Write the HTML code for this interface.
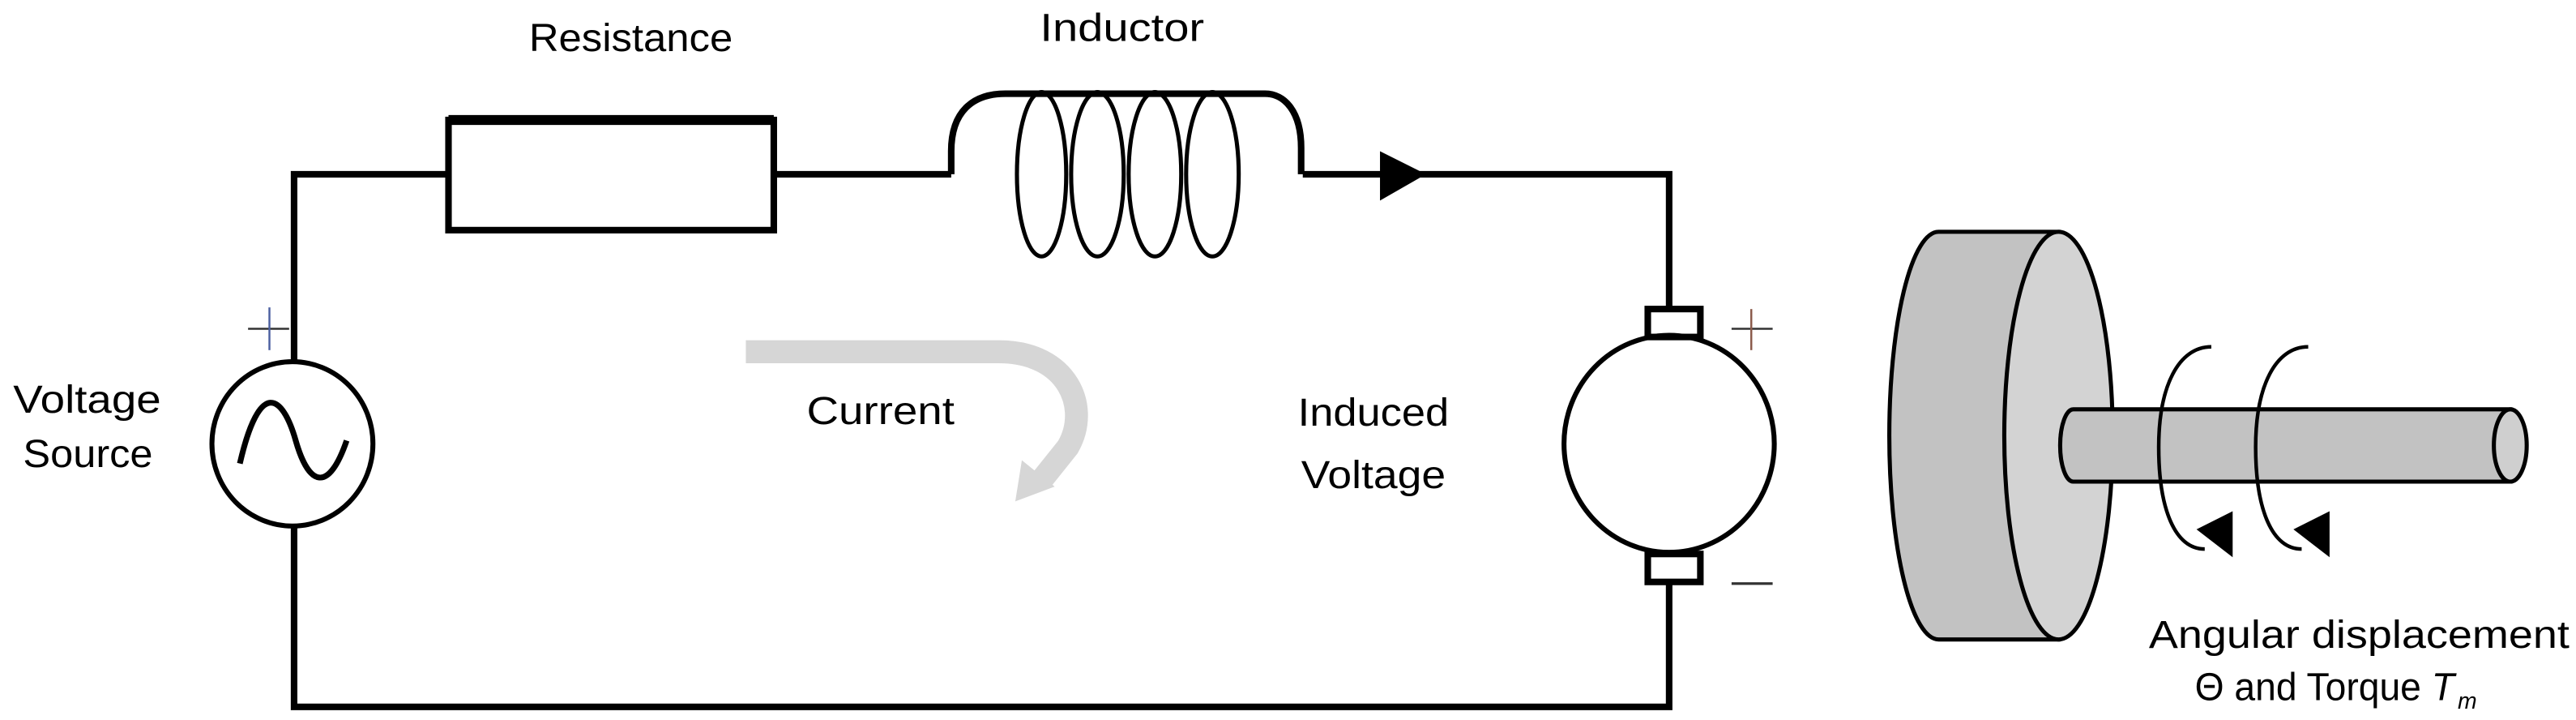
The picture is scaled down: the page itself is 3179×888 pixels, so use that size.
<!DOCTYPE html>
<html><head><meta charset="utf-8"><style>
html,body{margin:0;padding:0;background:#fff;}
svg{display:block;}
text{font-family:"Liberation Sans",sans-serif;font-size:24px;fill:#000;}
</style></head><body>
<svg width="3179" height="888" viewBox="0 0 1568 438" preserveAspectRatio="none" xmlns="http://www.w3.org/2000/svg">
<g fill="none" stroke="#000" stroke-width="4" stroke-linejoin="miter">
 <polyline points="179,220 179,106 273,106"/>
 <polyline points="471,106 579,106"/>
 <polyline points="793,106 1016,106 1016,188"/>
 <polyline points="1016,354 1016,430 179,430 179,320"/>
 <rect x="273" y="73" width="198" height="67"/>
 <line x1="273" y1="73" x2="471" y2="73" stroke-width="6"/>
 <path d="M579,106 L579,92 C579,68 592,57 612,57 L770,57 C782,57 792,68 792,90 L792,106"/>
 <g stroke-width="2.5">
  <ellipse cx="634" cy="106" rx="15" ry="50"/>
  <ellipse cx="668" cy="106" rx="16" ry="50"/>
  <ellipse cx="703" cy="106" rx="16" ry="50"/>
  <ellipse cx="738" cy="106" rx="16" ry="50"/>
 </g>
 <ellipse cx="178" cy="270" rx="49" ry="50" stroke-width="3"/>
 <path d="M146,282 C158,230 172,240 180,268 C188,296 200,300 211,268" stroke-width="3.5"/>
 <ellipse cx="1016" cy="270" rx="64" ry="66" stroke-width="3"/>
 <rect x="1003" y="188" width="32" height="17" stroke-width="4"/>
 <rect x="1003" y="337" width="32" height="17" stroke-width="4"/>
</g>
<path d="M454,214 L608,214 C650,214 664,248 650,272 L634,292" fill="none" stroke="#d6d6d6" stroke-width="14"/>
<polygon points="618,305 622,280 642,296" fill="#d6d6d6"/>
<polygon points="840,92 868,106 840,122" fill="#000"/>
<g stroke-width="1.2" fill="none">
 <line x1="151" y1="200" x2="176" y2="200" stroke="#333"/>
 <line x1="164" y1="187" x2="164" y2="213" stroke="#4a5fa0"/>
 <line x1="1054" y1="200" x2="1079" y2="200" stroke="#333"/>
 <line x1="1066" y1="188" x2="1066" y2="213" stroke="#8a5a4a"/>
 <line x1="1054" y1="355" x2="1079" y2="355" stroke="#333" stroke-width="1.6"/>
</g>
<path d="M1180,141 L1253,141 L1253,389 L1180,389 A30,124 0 0 1 1180,141 Z" fill="#c2c2c2" stroke="#000" stroke-width="2.5"/>
<ellipse cx="1253" cy="265" rx="33" ry="124" fill="#d3d3d3" stroke="#000" stroke-width="2.5"/>
<path d="M1262,249 L1528,249 L1528,293 L1262,293 A8,22 0 0 1 1262,249 Z" fill="#c2c2c2" stroke="#000" stroke-width="2.5"/>
<ellipse cx="1528" cy="271" rx="10" ry="22" fill="#cfcfcf" stroke="#000" stroke-width="2.5"/>
<g fill="none" stroke="#000" stroke-width="2.2">
 <path d="M1346,211 C1326,211 1314,235 1314,272 C1314,310 1324,334 1342,334"/>
 <path d="M1405,211 C1385,211 1373,235 1373,272 C1373,310 1383,334 1401,334"/>
</g>
<polygon points="1337,322 1359,311 1359,339" fill="#000"/>
<polygon points="1396,322 1418,311 1418,339" fill="#000"/>
<text x="322" y="31" textLength="124" lengthAdjust="spacingAndGlyphs">Resistance</text>
<text x="633" y="25" textLength="100" lengthAdjust="spacingAndGlyphs">Inductor</text>
<text x="8" y="251" textLength="90" lengthAdjust="spacingAndGlyphs">Voltage</text>
<text x="14" y="284" textLength="79" lengthAdjust="spacingAndGlyphs">Source</text>
<text x="491" y="258" textLength="90" lengthAdjust="spacingAndGlyphs">Current</text>
<text x="790" y="259" textLength="92" lengthAdjust="spacingAndGlyphs">Induced</text>
<text x="792" y="297" textLength="88" lengthAdjust="spacingAndGlyphs">Voltage</text>
<text x="1308" y="394" textLength="256" lengthAdjust="spacingAndGlyphs">Angular displacement</text>
<text x="1336" y="426" textLength="158" lengthAdjust="spacingAndGlyphs">Θ and Torque <tspan font-style="italic">T</tspan></text>
<text x="1496" y="431" style="font-size:14px;font-style:italic">m</text>
</svg>
</body></html>
